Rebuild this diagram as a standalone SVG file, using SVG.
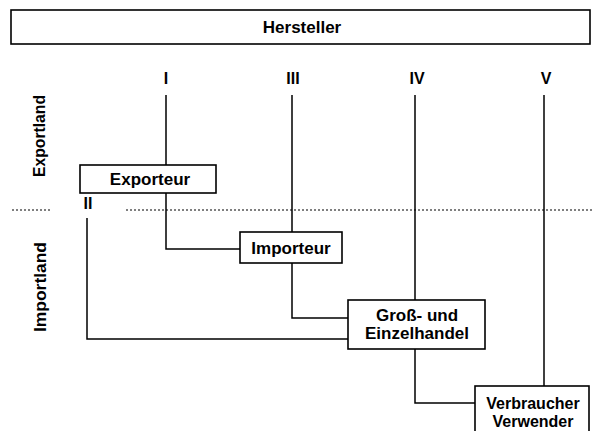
<svg xmlns="http://www.w3.org/2000/svg" width="593" height="431" viewBox="0 0 593 431">
<style>
.box{fill:#fff;stroke:#000;stroke-width:1.6}
.t{font-family:"Liberation Sans",Arial,sans-serif;font-weight:bold;font-size:17px;fill:#000;text-anchor:middle}
.num{font-family:"Liberation Sans",Arial,sans-serif;font-weight:bold;font-size:16px;fill:#000;text-anchor:middle}
.ln{fill:none;stroke:#000;stroke-width:1.5}
.dot{fill:none;stroke:#000;stroke-width:1.2;stroke-dasharray:2 2}
</style>
<rect width="593" height="431" fill="#fff"/>
<g id="connectors">
<path class="ln" d="M166 95V165M166 193V249H240"/>
<path class="ln" d="M292 95V232M292 263V318H348"/>
<path class="ln" d="M87 218V339H348"/>
<path class="ln" d="M415 95V300M415 349V403H475"/>
<path class="ln" d="M544 95V386"/>
</g>
<g id="border">
<path class="dot" d="M12 210H51M126 210H593"/>
</g>
<g id="hersteller">
<rect class="box" x="11" y="10" width="579" height="34"/>
<text class="t" x="302" y="33">Hersteller</text>
</g>
<g id="labels">
<text class="num" x="166" y="84">I</text>
<text class="num" x="293" y="84">III</text>
<text class="num" x="417" y="84">IV</text>
<text class="num" x="546" y="84">V</text>
<text class="num" x="88" y="209">II</text>
<text class="t" transform="translate(45 136) rotate(-90)" textLength="82" lengthAdjust="spacingAndGlyphs" style="font-size:16px">Exportland</text>
<text class="t" transform="translate(46 287) rotate(-90)" textLength="90" lengthAdjust="spacingAndGlyphs" style="font-size:16px">Importland</text>
</g>
<g id="exporteur">
<rect class="box" x="80" y="165" width="136" height="28"/>
<text class="t" x="150" y="185">Exporteur</text>
</g>
<g id="importeur">
<rect class="box" x="240" y="232" width="102" height="31"/>
<text class="t" x="291" y="254">Importeur</text>
</g>
<g id="handel">
<rect class="box" x="348" y="300" width="137" height="49"/>
<text class="t" x="417" y="321">Groß- und</text>
<text class="t" x="417" y="339">Einzelhandel</text>
</g>
<g id="verbraucher">
<rect class="box" x="475" y="386" width="114" height="50"/>
<text class="t" x="533" y="409" style="font-size:16px">Verbraucher</text>
<text class="t" x="533" y="427" style="font-size:16px">Verwender</text>
</g>
</svg>
